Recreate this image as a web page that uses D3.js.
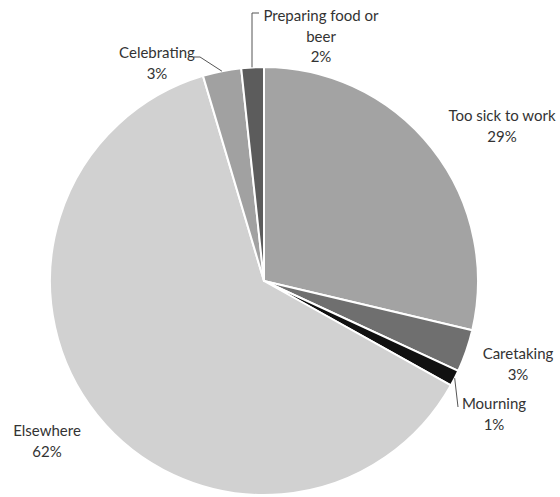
<!DOCTYPE html>
<html>
<head>
<meta charset="utf-8">
<script src="https://cdn.jsdelivr.net/npm/d3@7"></script>
<style>
  html, body { margin: 0; padding: 0; background: #fff; }
  svg { display: block; }
  text { font-family: Lato, "Open Sans", sans-serif; font-size: 15px; fill: #333; }
</style>
</head>
<body>
<svg id="chart" width="560" height="497"></svg>
<script>
// Where the absent workers were, share of days absent
const categories = ["Too sick to work", "Caretaking", "Mourning", "Elsewhere", "Celebrating", "Preparing food or beer"];
const shares = [28.7, 3.2, 1.2, 62.3, 2.9, 1.7];
const percentLabels = ["29%", "3%", "1%", "62%", "3%", "2%"];
const sliceColors = ["#a3a3a3", "#6f6f6f", "#111111", "#d1d1d1", "#a1a1a1", "#5c5c5c"];

const svg = d3.select("#chart");
const cx = 264, cy = 281, radius = 214;

const pie = d3.pie().sort(null).value(d => d.value);
const arcs = pie(categories.map((c, i) => ({ name: c, value: shares[i], label: percentLabels[i], color: sliceColors[i] })));

const arc = d3.arc().innerRadius(0).outerRadius(radius);

const g = svg.append("g").attr("transform", `translate(${cx},${cy})`);

g.selectAll("path.slice")
  .data(arcs)
  .join("path")
  .attr("class", "slice")
  .attr("d", arc)
  .attr("fill", d => d.data.color)
  .attr("stroke", "#fff")
  .attr("stroke-width", 2)
  .attr("stroke-linejoin", "round");

// Label placement (line positions in page coordinates), with optional leader lines.
// "edge" = slice's outer edge at its mid angle; "drop" = arc point straight below x.
const labelSpec = {
  "Too sick to work": { x: 502, y: 115, lines: ["Too sick to work"] },
  "Caretaking":       { x: 518, y: 353, lines: ["Caretaking"] },
  "Mourning":         { x: 494, y: 403, lines: ["Mourning"], leader: ["edge", [458, 407]] },
  "Elsewhere":        { x: 47,  y: 430, lines: ["Elsewhere"] },
  "Celebrating":      { x: 157, y: 52,  lines: ["Celebrating"], leader: [[194, 57], [200, 57], "edge"] },
  "Preparing food or beer": { x: 321, y: 15, lines: ["Preparing food or", "beer"], leader: [[259, 13], [252, 13], ["drop", 252]] }
};

const lineH = 20.5;

arcs.forEach(d => {
  const spec = labelSpec[d.data.name];
  const texts = spec.lines.concat([d.data.label]);
  const t = svg.append("text")
    .attr("text-anchor", "middle")
    .attr("dominant-baseline", "central");
  texts.forEach((s, i) => {
    t.append("tspan").attr("x", spec.x).attr("y", spec.y + i * lineH).text(s);
  });

  if (spec.leader) {
    const mid = (d.startAngle + d.endAngle) / 2;
    const edge = [cx + radius * Math.sin(mid), cy - radius * Math.cos(mid)];
    const pts = spec.leader.map(p => {
      if (p === "edge") return edge;
      if (p[0] === "drop") {
        const dx = p[1] - cx;
        return [p[1], cy - Math.sqrt(radius * radius - dx * dx)];
      }
      return p;
    });
    svg.append("path")
      .attr("d", d3.line()(pts))
      .attr("fill", "none")
      .attr("stroke", "#555")
      .attr("stroke-width", 1);
  }
});
</script>
</body>
</html>
